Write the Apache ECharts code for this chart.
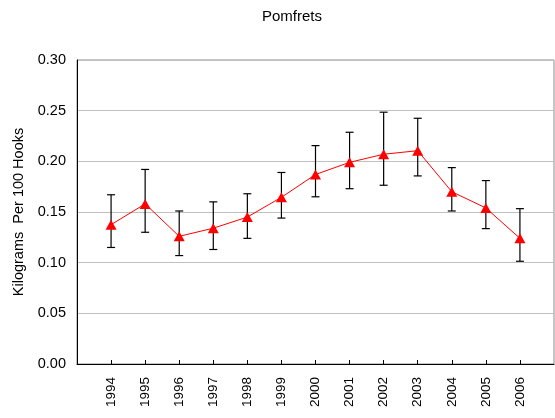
<!DOCTYPE html>
<html><head><meta charset="utf-8">
<script src="https://cdn.jsdelivr.net/npm/echarts@6/dist/echarts.min.js"></script>
<style>html,body{margin:0;padding:0;background:#fff}#c{width:555px;height:418px}</style>
</head><body><div id="c"></div>
<script>
const years = ['1994','1995','1996','1997','1998','1999','2000','2001','2002','2003','2004','2005','2006'];
const cpue  = [0.1375,0.158,0.126,0.134,0.145,0.1645,0.187,0.199,0.207,0.2105,0.170,0.154,0.124];
const upper = [0.167,0.192,0.151,0.160,0.168,0.189,0.2155,0.2287,0.2485,0.2425,0.1938,0.181,0.1533];
const lower = [0.115,0.130,0.107,0.113,0.124,0.144,0.165,0.173,0.1764,0.1856,0.151,0.1336,0.1014];
const yTicks = [0,0.05,0.10,0.15,0.20,0.25,0.30];

const cats = [''].concat(years, ['']);
const lineData = [null].concat(cpue, [null]);
const errData = years.map((y,i)=>[i+1, lower[i], upper[i]]);
const FF = 'Liberation Sans, Arial';

const chart = echarts.init(document.getElementById('c'));
chart.setOption({
  animation:false,
  title:{text:'Pomfrets',left:287,top:4,textAlign:'center',
    textStyle:{fontFamily:FF,fontSize:15,fontWeight:'normal',color:'#000'}},
  grid:{left:77,top:60,right:1,bottom:54,show:true,borderColor:'#8c8c8c',borderWidth:1,backgroundColor:'#fff'},
  xAxis:{type:'category',data:cats,boundaryGap:false,
    axisLine:{lineStyle:{color:'#000',width:1}},
    axisTick:{inside:true,length:4,lineStyle:{color:'#000'},interval:(i)=>i>0&&i<cats.length-1},
    axisLabel:{rotate:90,interval:0,margin:13,fontFamily:FF,fontSize:13.5,color:'#000'},
    splitLine:{show:false}},
  yAxis:{type:'value',min:yTicks[0],max:yTicks[yTicks.length-1],interval:0.05,
    name:'Kilograms  Per 100 Hooks',nameLocation:'middle',nameGap:47,
    nameTextStyle:{fontFamily:FF,fontSize:14.5,color:'#000'},
    axisLine:{show:true,lineStyle:{color:'#000',width:1}},
    axisTick:{show:false},
    axisLabel:{formatter:v=>v.toFixed(2),fontFamily:FF,fontSize:14.5,color:'#000',margin:11},
    splitLine:{lineStyle:{color:'#c0c0c0',width:1}}},
  series:[
    {type:'custom',data:errData,z:2,
     renderItem:function(params,api){
       const x=api.value(0);
       const lo=api.coord([x,api.value(1)]);
       const hi=api.coord([x,api.value(2)]);
       const w=4;
       const st={stroke:'#000',lineWidth:1.2};
       return {type:'group',children:[
         {type:'line',shape:{x1:lo[0],y1:lo[1],x2:hi[0],y2:hi[1]},style:st},
         {type:'line',shape:{x1:lo[0]-w,y1:lo[1],x2:lo[0]+w,y2:lo[1]},style:st},
         {type:'line',shape:{x1:hi[0]-w,y1:hi[1],x2:hi[0]+w,y2:hi[1]},style:st}
       ]};
     }},
    {type:'line',data:lineData,z:3,symbol:'triangle',symbolSize:[11,10],
     lineStyle:{color:'#ff0000',width:1},itemStyle:{color:'#ff0000'},connectNulls:false}
  ]
});
</script></body></html>
